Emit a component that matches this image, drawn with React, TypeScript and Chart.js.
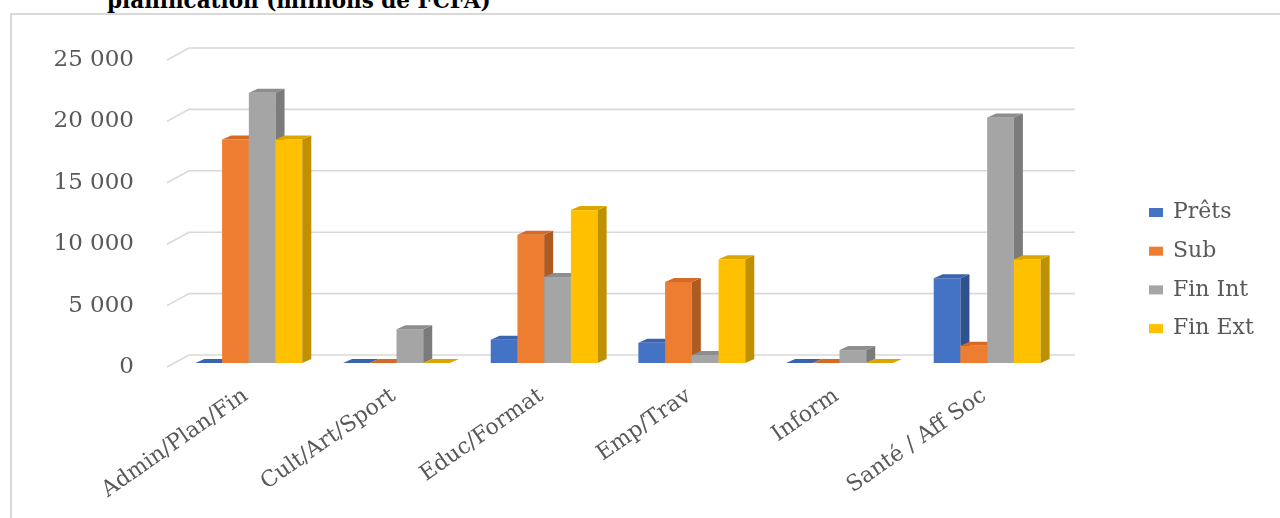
import { useEffect, useRef } from "react";
import { Chart, registerables } from "chart.js";

Chart.register(...registerables);

// Sectors (x axis) and the four funding series, in millions de FCFA
const categories = ["Admin/Plan/Fin", "Cult/Art/Sport", "Educ/Format", "Emp/Trav", "Inform", "Santé / Aff Soc"];
const seriesNames = ["Prêts", "Sub", "Fin Int", "Fin Ext"];
const prets = [0, 0, 1900, 1650, 0, 6900];
const sub = [18200, 0, 10450, 6600, 0, 1400];
const finInt = [22000, 2750, 7000, 650, 1050, 20000];
const finExt = [18200, 0, 12450, 8450, 0, 8450];
const yTickValues = [0, 5000, 10000, 15000, 20000, 25000];

// Face colours for the pseudo-3D columns
const frontColors = ["#4472C4", "#ED7D31", "#A5A5A5", "#FFC000"];
const topColors = ["#3B64B0", "#D46A25", "#8D8D8D", "#DCA600"];
const sideColors = ["#2F528F", "#AE5A21", "#7B7B7B", "#BF9000"];

const FONT = "'DejaVu Serif', serif";
const TEXT_COLOR = "#595959";

// Depth of the back wall relative to the front plane
const WALL_DX = 22;
const WALL_DY = 12;
// Columns sit a little behind the front plane
const BAR_SHIFT_X = 8;
const BAR_SHIFT_Y = 4;
// Thickness of each column (side / top faces)
const BAR_DX = 9;
const BAR_DY = 4;

const formatThousands = (v: number) => String(v).replace(/\B(?=(\d{3})+(?!\d))/g, " ");

const depthPlugin = {
  id: "depth3d",
  beforeDatasetsDraw(chart: any) {
    const { ctx, chartArea, scales } = chart;
    const yScale = scales.y;
    ctx.save();

    // gridlines on the back wall with a slanted run-in from the front plane
    ctx.strokeStyle = "#D9D9D9";
    ctx.lineWidth = 1.6;
    yTickValues.forEach((v) => {
      const py = yScale.getPixelForValue(v);
      ctx.beginPath();
      ctx.moveTo(chartArea.left, py);
      ctx.lineTo(chartArea.left + WALL_DX, py - WALL_DY);
      ctx.lineTo(chartArea.right + WALL_DX, py - WALL_DY);
      ctx.stroke();
    });

    // columns: front, side and top faces, series drawn left to right
    chart.data.datasets.forEach((_ds: any, di: number) => {
      const meta = chart.getDatasetMeta(di);
      meta.data.forEach((el: any) => {
        const { x, y, base, width } = el.getProps(["x", "y", "base", "width"], true);
        const l = x - width / 2 + BAR_SHIFT_X;
        const r = x + width / 2 + BAR_SHIFT_X;
        const t = y - BAR_SHIFT_Y;
        const b = base - BAR_SHIFT_Y;

        ctx.fillStyle = frontColors[di];
        ctx.fillRect(l, t, r - l, b - t);

        ctx.fillStyle = sideColors[di];
        ctx.beginPath();
        ctx.moveTo(r, t);
        ctx.lineTo(r + BAR_DX, t - BAR_DY);
        ctx.lineTo(r + BAR_DX, b - BAR_DY);
        ctx.lineTo(r, b);
        ctx.closePath();
        ctx.fill();

        ctx.fillStyle = topColors[di];
        ctx.beginPath();
        ctx.moveTo(l, t);
        ctx.lineTo(r, t);
        ctx.lineTo(r + BAR_DX, t - BAR_DY);
        ctx.lineTo(l + BAR_DX, t - BAR_DY);
        ctx.closePath();
        ctx.fill();
      });
    });

    ctx.restore();
    return false;
  },
  afterDraw(chart: any) {
    // legend column to the right of the plot
    const { ctx } = chart;
    ctx.save();
    ctx.font = `22px ${FONT}`;
    ctx.textBaseline = "middle";
    ctx.textAlign = "left";
    chart.data.datasets.forEach((ds: any, i: number) => {
      const cy = 212.5 + i * 38.7;
      ctx.fillStyle = ds.backgroundColor;
      ctx.fillRect(1149, cy - 4.5, 14, 9);
      ctx.fillStyle = TEXT_COLOR;
      ctx.fillText(ds.label, 1173, cy);
    });
    ctx.restore();
  },
};

export default function App() {
  const canvasRef = useRef<HTMLCanvasElement>(null);

  useEffect(() => {
    const seriesData = [prets, sub, finInt, finExt];
    const chart = new Chart(canvasRef.current as HTMLCanvasElement, {
      type: "bar",
      data: {
        labels: categories,
        datasets: seriesNames.map((name, i) => ({
          label: name,
          data: seriesData[i],
          backgroundColor: frontColors[i],
          barPercentage: 1,
          categoryPercentage: 0.724,
        })),
      },
      options: {
        responsive: false,
        animation: false,
        devicePixelRatio: 1,
        layout: { padding: { left: 20, top: 60, right: 227, bottom: 0 } },
        plugins: {
          legend: { display: false },
          tooltip: { enabled: false },
        },
        scales: {
          x: {
            grid: { display: false },
            border: { display: false },
            ticks: {
              font: { family: FONT, size: 22 },
              color: TEXT_COLOR,
              minRotation: 35,
              maxRotation: 35,
              padding: 8,
              labelOffset: 5,
              autoSkip: false,
            },
            afterFit: (s: any) => {
              s.height = 151;
            },
          },
          y: {
            min: 0,
            max: 25000,
            grid: { display: false },
            border: { display: false },
            ticks: {
              stepSize: 5000,
              font: { family: FONT, size: 23 },
              color: TEXT_COLOR,
              padding: 25,
              callback: (v: any) => formatThousands(Number(v)),
            },
            afterFit: (s: any) => {
              s.width = 147;
            },
          },
        },
      },
      plugins: [depthPlugin],
    });
    return () => chart.destroy();
  }, []);

  return (
    <div
      style={{
        position: "fixed",
        left: 0,
        top: 0,
        width: 1280,
        height: 518,
        overflow: "hidden",
        background: "#ffffff",
      }}
    >
      <div
        style={{
          position: "absolute",
          left: 107,
          top: -10,
          font: `bold 21.5px/21.5px ${FONT}`,
          color: "#000000",
          whiteSpace: "nowrap",
        }}
      >
        planification (millions de FCFA)
      </div>
      <div
        style={{
          position: "absolute",
          left: 10,
          top: 13,
          width: 1320,
          height: 600,
          border: "2px solid #D9D9D9",
          boxSizing: "border-box",
        }}
      />
      <canvas
        ref={canvasRef}
        width={1280}
        height={518}
        style={{ position: "absolute", left: 0, top: 0, width: 1280, height: 518 }}
      />
    </div>
  );
}
